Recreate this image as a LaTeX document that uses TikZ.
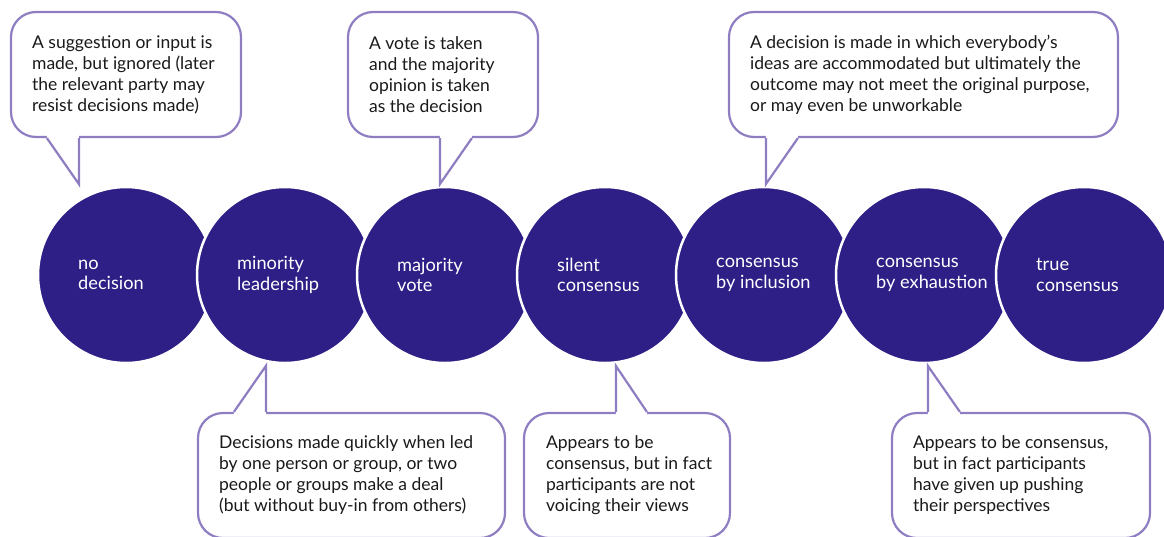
\documentclass[tikz,border=0pt]{standalone}
\usepackage{fontspec}
\setmainfont{Lato}
\usetikzlibrary{calc}
\definecolor{discfill}{RGB}{46,31,135}
\definecolor{edgecol}{RGB}{143,125,194}
\definecolor{inktext}{RGB}{26,26,26}
\begin{document}
\begin{tikzpicture}[x=1pt,y=-1pt,
  discnode/.style={circle, fill=discfill, draw=white, line width=2.5pt, minimum size=176pt, inner sep=0pt},
  disclabel/.style={text=white, align=left, anchor=west, inner sep=0pt, font=\fontsize{18.2}{20.5}\selectfont},
  callout/.style={draw=edgecol, fill=white, line width=2.2pt, rounded corners=25pt, minimum height=125pt, inner sep=0pt},
  callouttext/.style={anchor=west, inner sep=0pt, align=left, text=inktext, font=\fontsize{17.5}{21}\selectfont},
  tailfill/.style={fill=white},
  tailline/.style={draw=edgecol, line width=2.2pt, line join=miter}
]
\useasboundingbox (0,0) rectangle (1164,536);
\clip (0,0) rectangle (1164,536);

% discs, drawn left to right so each overlaps the previous
\foreach \i/\cx in {1/126,2/285,3/445,4/605,5/764,6/924,7/1084}{
  \node[discnode] (d\i) at (\cx,275) {};
}
\node[disclabel] (l1) at ($(d1.center)+(-48,0)$) {no\\decision};
\node[disclabel] (l2) at ($(d2.center)+(-48,0)$) {minority\\leadership};
\node[disclabel] (l3) at ($(d3.center)+(-48,0)$) {majority\\vote};
\node[disclabel] (l4) at ($(d4.center)+(-48,0)$) {silent\\consensus};
\node[disclabel] (l5) at ($(d5.center)+(-48,0)$) {consensus\\by inclusion};
\node[disclabel] (l6) at ($(d6.center)+(-48,0)$) {consensus\\by exhaustion};
\node[disclabel] (l7) at ($(d7.center)+(-48,0)$) {true\\consensus};

% callout boxes
\node[callout, minimum width=230pt] (c1) at (126,74.5) {};
\node[callout, minimum width=190pt] (c2) at (443,74.5) {};
\node[callout, minimum width=389pt] (c3) at (923.5,74.5) {};
\node[callout, minimum width=307pt] (c4) at (351.5,475.5) {};
\node[callout, minimum width=206pt] (c5) at (627,475.5) {};
\node[callout, minimum width=258pt] (c6) at (1021,475.5) {};

% callout texts
\node[callouttext] (c1t) at ($(c1.west)+(22,0)$) {A suggestion or input is\\made, but ignored (later\\the relevant party may\\resist decisions made)};
\node[callouttext] (c2t) at ($(c2.west)+(22,0)$) {A vote is taken\\and the majority\\opinion is taken\\as the decision};
\node[callouttext] (c3t) at ($(c3.west)+(22,0)$) {A decision is made in which everybody’s\\ideas are accommodated but ultimately the\\outcome may not meet the original purpose,\\or may even be unworkable};
\node[callouttext] (c4t) at ($(c4.west)+(22,0)$) {Decisions made quickly when led\\by one person or group, or two\\people or groups make a deal\\(but without buy-in from others)};
\node[callouttext] (c5t) at ($(c5.west)+(23,0)$) {Appears to be\\consensus, but in fact\\participants are not\\voicing their views};
\node[callouttext] (c6t) at ($(c6.west)+(22,0)$) {Appears to be consensus,\\but in fact participants\\have given up pushing\\their perspectives};

% tails: tips near the discs
\coordinate (t1) at ($(c1.south west)+(69,46)$);
\coordinate (t2) at ($(c2.south west)+(93,46)$);
\coordinate (t3) at ($(c3.south west)+(38,46)$);
\coordinate (t4) at ($(c4.north west)+(69,-46)$);
\coordinate (t5) at ($(c5.north west)+(93,-46)$);
\coordinate (t6) at ($(c6.north west)+(37,-46)$);

% top callouts
\fill[tailfill] ($(c1.south west)+(37,-3)$) -- ($(c1.south west)+(37,0)$) -- (t1) -- ($(c1.south west)+(69,0)$) -- ($(c1.south west)+(69,-3)$) -- cycle;
\draw[tailline] ($(c1.south west)+(37,0)$) -- (t1) -- ($(c1.south west)+(69,0)$);
\fill[tailfill] ($(c2.south west)+(93,-3)$) -- ($(c2.south west)+(93,0)$) -- (t2) -- ($(c2.south west)+(125,0)$) -- ($(c2.south west)+(125,-3)$) -- cycle;
\draw[tailline] ($(c2.south west)+(93,0)$) -- (t2) -- ($(c2.south west)+(125,0)$);
\fill[tailfill] ($(c3.south west)+(38,-3)$) -- ($(c3.south west)+(38,0)$) -- (t3) -- ($(c3.south west)+(70,0)$) -- ($(c3.south west)+(70,-3)$) -- cycle;
\draw[tailline] ($(c3.south west)+(38,0)$) -- (t3) -- ($(c3.south west)+(70,0)$);
% bottom callouts
\fill[tailfill] ($(c4.north west)+(37,3)$) -- ($(c4.north west)+(37,0)$) -- (t4) -- ($(c4.north west)+(69,0)$) -- ($(c4.north west)+(69,3)$) -- cycle;
\draw[tailline] ($(c4.north west)+(37,0)$) -- (t4) -- ($(c4.north west)+(69,0)$);
\fill[tailfill] ($(c5.north west)+(93,3)$) -- ($(c5.north west)+(93,0)$) -- (t5) -- ($(c5.north west)+(124,0)$) -- ($(c5.north west)+(124,3)$) -- cycle;
\draw[tailline] ($(c5.north west)+(93,0)$) -- (t5) -- ($(c5.north west)+(124,0)$);
\fill[tailfill] ($(c6.north west)+(37,3)$) -- ($(c6.north west)+(37,0)$) -- (t6) -- ($(c6.north west)+(69,0)$) -- ($(c6.north west)+(69,3)$) -- cycle;
\draw[tailline] ($(c6.north west)+(37,0)$) -- (t6) -- ($(c6.north west)+(69,0)$);
\end{tikzpicture}
\end{document}
